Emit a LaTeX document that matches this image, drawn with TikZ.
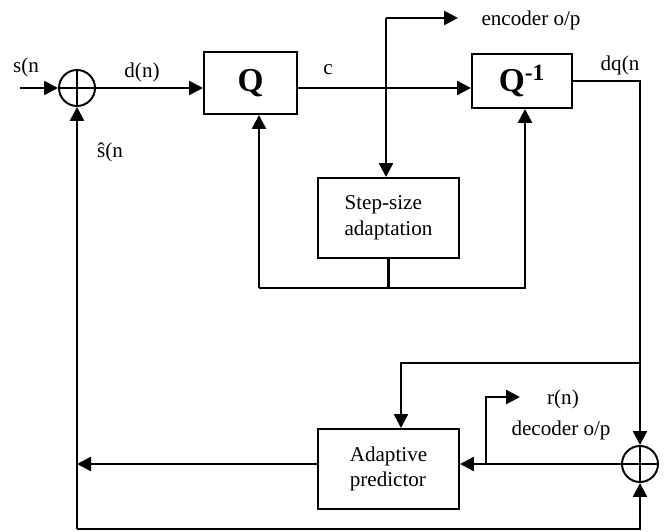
\documentclass[tikz,border=0pt]{standalone}
\usepackage{fontspec}
\setmainfont{Liberation Serif}
\usetikzlibrary{arrows.meta,positioning,calc}
\begin{document}
\begin{tikzpicture}[>=Latex,
  blk/.style={draw,line width=1.1pt,minimum width=1.86cm,minimum height=1.24cm,inner sep=2pt,
    font=\fontsize{19}{21}\selectfont\bfseries},
  wide/.style={draw,line width=1.1pt,minimum width=2.82cm,minimum height=1.6cm,align=left,inner sep=2pt,
    font=\fontsize{12}{14.5}\selectfont},
  sum/.style={circle,draw,line width=1.1pt,minimum size=0.72cm,inner sep=0pt,
    path picture={\draw[line width=1.1pt] (path picture bounding box.north)--(path picture bounding box.south)
      (path picture bounding box.west)--(path picture bounding box.east);}},
  a/.style={-{Triangle[length=2.8mm,width=2.8mm]},line width=1.4pt},
  l/.style={line width=1.4pt},
  lbl/.style={inner sep=1pt,font=\fontsize{12}{14}\selectfont}]
\useasboundingbox (0,0) rectangle (13.34,10.62);
\node[sum] (s1) at (1.54,8.86) {};
\node[blk] (q) at (5.01,8.96) {Q};
\node[blk,minimum width=2cm,minimum height=1.08cm] (qi) at (10.44,9.0) {Q\textsuperscript{-1}};
\node[wide] (step) at (7.77,6.26) {Step-size\\adaptation};
\node[wide] (pred) at (7.77,1.24) {Adaptive\\predictor};
\node[sum] (s2) at (12.8,1.34) {};
\coordinate (in) at (0.40,8.86);
\coordinate (tap) at (7.72,8.86);
\coordinate (enc) at (9.16,10.26);
\coordinate (fb) at (5.18,4.86);
\coordinate (fbr) at (10.5,4.86);
\coordinate (br) at (12.8,3.36);
\coordinate (pin) at (8.02,3.36);
\coordinate (rn) at (9.72,2.68);
\coordinate (rout) at (10.4,2.68);
\coordinate (bl) at (1.54,0.04);
\node[lbl] (sn) at (0.52,9.28) {s(n};
\node[lbl] (dn) at (2.84,9.18) {d(n)};
\node[lbl] (cl) at (6.56,9.22) {c};
\node[lbl] (enclbl) at (10.62,10.22) {encoder o/p};
\node[lbl] (dq) at (12.4,9.32) {dq(n};
\node[lbl] (sh) at (2.2,7.58) {ŝ(n};
\node[lbl] (rl) at (11.26,2.64) {r(n)};
\node[lbl] (dec) at (11.22,2.02) {decoder o/p};
\draw[a] (in) -- (s1.west); \draw[a] (s1.east) -- (s1.east -| q.west);
\draw[a] (s1 -| q.east) -- (s1 -| qi.west);
\draw[a] (enc -| tap) -- (enc); \draw[a] (enc -| tap) -- (tap |- step.north);
\draw[l] (step.south) -- (step.south |- fb);
\draw[a] (fb) -- (fb |- q.south); \draw[a] (fb) -- (fbr) -- (fbr |- qi.south);
\draw[a] (qi.east) -| (s2.north);
\draw[a] (br) -- (pin) -- (pin |- pred.north);
\draw[a] (s2.west) -- (s2.west -| pred.east);
\draw[a] (rn |- s2) -- (rn) -- (rout);
\draw[a] (s2 -| pred.west) -- (s2 -| s1);
\draw[a] (bl) -- (s1.south); \draw[a] (bl) -| (s2.south);
\end{tikzpicture}
\end{document}
